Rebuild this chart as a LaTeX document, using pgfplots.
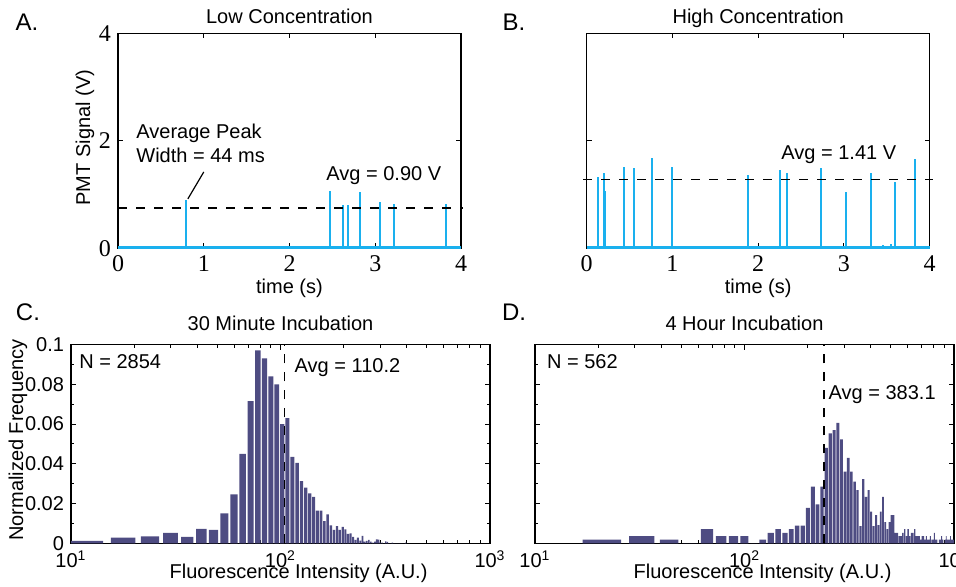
\documentclass[border=0pt]{standalone}
\usepackage{pgfplots}
\pgfplotsset{compat=1.18}
\usepackage{pgfplotstable}
\usepackage{fontspec}
\setmainfont{Liberation Sans}
\newfontfamily\tickserif{Liberation Serif}
\definecolor{cTrace}{HTML}{1AB0EE}
\definecolor{cBar}{HTML}{4E4C82}

% histogram bins, left edges (last row only closes the final bin)
\pgfplotstableread{
x y
9 0.0012
15 0.0028
21 0.0035
27 0.0053
33 0.0033
39 0.0073
45 0.0067
51 0.0150
57 0.0246
63 0.0450
69 0.0715
75 0.0970
81 0.0930
87 0.0840
93 0.0800
99 0.0600
105 0.0630
111 0.0435
117 0.0405
123 0.0313
129 0.0280
135 0.0251
141 0.0234
147 0.0164
153 0.0164
159 0.0112
165 0.0146
171 0.0090
177 0.0067
183 0.0087
189 0.0067
195 0.0083
201 0.0070
207 0.0047
213 0.0050
219 0.0033
225 0.0017
231 0.0028
237 0.0013
243 0.0037
249 0.0008
255 0.0012
261 0.0017
267 0.0008
273 0.0004
279 0.0008
285 0.0020
291 0.0018
297 0.0004
303 0.0004
309 0
315 0.0010
321 0.0007
327 0
333 0
339 0.0004
345 0
351 0
357 0
363 0
369 0
375 0
381 0
387 0
393 0.0004
399 0
}\histC

\pgfplotstableread{
x y
16 0.0018
27.2 0.0036
38.4 0.0018
49.6 0
60.8 0.0071
72 0.0036
83.2 0.0036
94.4 0.0036
105.6 0
116.8 0.0018
128 0.0053
139.2 0.0071
150.4 0.0053
161.6 0.0071
172.8 0.0089
184 0.0089
195.2 0.0178
206.4 0.0285
217.6 0.0196
228.8 0.0285
240 0.0480
251.2 0.0553
262.4 0.0569
273.6 0.0606
284.8 0.0523
296 0.0360
307.2 0.0430
318.4 0.0360
329.6 0.0310
340.8 0.0268
352 0.0087
363.2 0.0323
374.4 0.0234
385.6 0.0268
396.8 0.0160
408 0.0087
419.2 0.0142
430.4 0.0092
441.6 0.0160
452.8 0.0234
464 0.0107
475.2 0.0071
486.4 0.0107
497.6 0.0142
508.8 0.0142
520 0.0053
531.2 0.0053
542.4 0.0036
553.6 0.0036
564.8 0.0053
576 0.0071
587.2 0.0036
598.4 0.0071
609.6 0.0036
620.8 0.0053
632 0.0053
643.2 0.0071
654.4 0.0036
665.6 0.0036
676.8 0.0036
688 0.0018
699.2 0.0036
710.4 0.0036
721.6 0.0018
732.8 0.0036
744 0.0018
755.2 0.0018
766.4 0.0036
777.6 0.0018
788.8 0.0018
800 0.0053
811.2 0.0018
822.4 0.0018
833.6 0
844.8 0.0018
856 0.0018
867.2 0.0036
878.4 0.0018
889.6 0
900.8 0.0018
912 0.0036
923.2 0.0018
934.4 0.0018
945.6 0.0018
956.8 0.0036
968 0.0018
979.2 0.0018
990.4 0.0018
1001.6 0
}\histD

\newcommand\tk[1]{{\tickserif\fontsize{12}{14}\selectfont #1}}

\pgfplotsset{
  panel/.style={
    scale only axis, enlargelimits=false,
    axis line style={line width=0.7pt},
    tick style={black, line width=0.5pt},
    major tick length=2.5pt, minor tick length=1.5pt,
  },
  tracepanel/.style={
    panel, width=171.5pt, height=107.5pt,
    xmin=0, xmax=4, ymin=0, ymax=4,
    xtick={0,1,2,3,4}, ytick={0,2,4},
    xticklabels={\tk{0},\tk{1},\tk{2},\tk{3},\tk{4}},
    clip=false,
    every axis title/.style={at={(axis description cs:0.5,1.047)}, anchor=base},
    xlabel={time (s)},
    every axis x label/.style={at={(axis description cs:0.5,-0.185)}, anchor=center},
  },
  histpanel/.style={
    panel, width=209.5pt, height=99.4pt,
    xmin=10, xmax=1000, ymin=0, ymax=0.1,
    xtick={10,100,1000},
    xticklabels={10\textsuperscript{1},10\textsuperscript{2},10\textsuperscript{3}},
    minor xtick={20,30,40,50,60,70,80,90,200,300,400,500,600,700,800,900},
    ytick={0,0.02,0.04,0.06,0.08,0.1},
    minor ytick={0.01,0.03,0.05,0.07,0.09},
    every axis title/.style={at={(axis description cs:0.5,1.069)}, anchor=base},
    xlabel={Fluorescence Intensity (A.U.)},
    every axis x label/.style={at={(axis description cs:0.543,-0.15)}, anchor=center},
  },
  histbars/.style={ybar interval, bar interval width=0.8, bar interval shift=0.5,
    fill=cBar, draw=none},
  avgline/.style={black, line width=0.8pt, dash pattern=on 4.5pt off 4.5pt},
}

\begin{document}
\begin{tikzpicture}
\useasboundingbox (0,0) rectangle (478pt,293pt);

\node at (13.5pt,282pt) {\fontsize{12}{14}\selectfont A.};
\node at (257pt,282pt) {\fontsize{12}{14}\selectfont B.};
\node at (14pt,137pt) {\fontsize{12}{14}\selectfont C.};
\node at (257pt,137pt) {\fontsize{12}{14}\selectfont D.};

% A
\begin{axis}[tracepanel, at={(59pt,168.85pt)}, anchor=south west,
  title={Low Concentration},
  yticklabels={\tk{0},\tk{2},\tk{4}},
  ylabel={PMT Signal (V)},
  every axis y label/.style={at={(axis description cs:-0.096,0.515)}, anchor=center, rotate=90}]
\addplot[cTrace, line width=1.6pt] coordinates {(0,0.01) (4,0.01)};
\addplot[ycomb, cTrace, line width=1pt] coordinates {
(0.79,0.89) (2.47,1.06) (2.62,0.80) (2.68,0.80) (2.82,1.04)
(3.05,0.86) (3.22,0.82) (3.83,0.83)};
\addplot[avgline] coordinates {(0,0.75) (4.02,0.75)};
\node[anchor=west, align=left, inner sep=0] at (axis cs:0.21,1.96)
  {Average Peak\\Width = 44 ms};
\draw[black, line width=0.6pt] (axis cs:1.0,1.42) -- (axis cs:0.815,0.92);
\node at (axis cs:3.10,1.36) {Avg = 0.90 V};
\end{axis}

% B
\begin{axis}[tracepanel, at={(293.35pt,168.85pt)}, anchor=south west,
  title={High Concentration},
  yticklabels={}]
\addplot[cTrace, line width=1.6pt] coordinates {(0,0.01) (4,0.01)};
\addplot[ycomb, cTrace, line width=1pt] coordinates {
(0.13,1.33) (0.20,1.40) (0.21,1.07) (0.43,1.52) (0.55,1.50)
(0.76,1.68) (1.00,1.52) (1.88,1.36) (2.25,1.46) (2.33,1.41)
(2.73,1.49) (3.02,1.04) (3.32,1.40) (3.45,0.06) (3.55,0.08)
(3.59,1.23) (3.83,1.66)};
\addplot[avgline] coordinates {(-0.04,1.28) (4.04,1.28)};
\node at (axis cs:2.94,1.74) {Avg = 1.41 V};
\end{axis}

% C
\begin{semilogxaxis}[histpanel, at={(35.5pt,21.35pt)}, anchor=south west,
  title={30 Minute Incubation},
  yticklabels={0,0.02,0.04,0.06,0.08,0.1},
  ylabel={Normalized Frequency},
  every axis y label/.style={at={(axis description cs:-0.1265,0.519)}, anchor=center, rotate=90}]
\addplot[histbars] table[x=x, y=y] {\histC};
\addplot[avgline] coordinates {(104.5,0) (104.5,0.1)};
\node[anchor=west, inner sep=0] at (axis description cs:0.019,0.913) {N = 2854};
\node[anchor=west, inner sep=0] at (axis description cs:0.533,0.884) {Avg = 110.2};
\end{semilogxaxis}

% D
\begin{semilogxaxis}[histpanel, at={(267.5pt,21.35pt)}, anchor=south west,
  title={4 Hour Incubation},
  yticklabels={}]
\addplot[histbars] table[x=x, y=y] {\histD};
\addplot[avgline] coordinates {(239.5,0) (239.5,0.1)};
\node[anchor=west, inner sep=0] at (axis description cs:0.028,0.913) {N = 562};
\node[anchor=west, inner sep=0] at (axis description cs:0.700,0.749) {Avg = 383.1};
\end{semilogxaxis}
\end{tikzpicture}
\end{document}
